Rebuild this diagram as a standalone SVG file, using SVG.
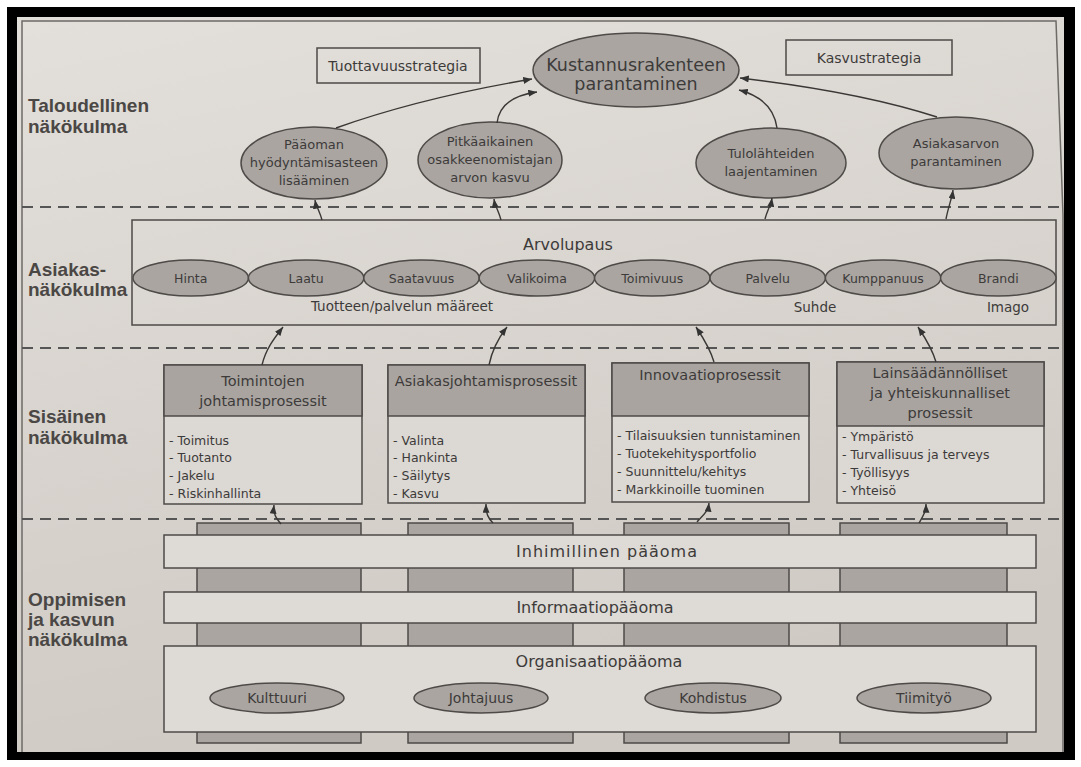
<svg xmlns="http://www.w3.org/2000/svg" width="1081" height="767" viewBox="0 0 1081 767">
<defs>
<linearGradient id="pg" x1="0" y1="0" x2="0.3" y2="1">
<stop offset="0" stop-color="#e3dfda"/><stop offset="1" stop-color="#cfcac4"/>
</linearGradient>
<marker id="ah" viewBox="0 0 10 8" refX="10" refY="4" markerWidth="9" markerHeight="7" markerUnits="userSpaceOnUse" orient="auto"><path d="M0,0 L10,4 L0,8 z" fill="#333"/></marker>
</defs>
<style>
.t{font-family:"DejaVu Sans",sans-serif;fill:#3d3b3a;text-anchor:middle}
.lbl{font-family:"Liberation Sans",Arial,sans-serif;font-weight:bold;font-size:19px;fill:#4a4745}
.el{fill:#aaa5a1;stroke:#4d4a48;stroke-width:1.5}
.box{fill:none;stroke:#4d4a48;stroke-width:1.5}
.body{fill:#dcd8d3;stroke:#4d4a48;stroke-width:1.5}
.hdr{fill:#a9a4a0;stroke:#4d4a48;stroke-width:1.5}
.col{fill:#aaa5a1;stroke:#4d4a48;stroke-width:1.5}
.bar{fill:#dedad5;stroke:#4d4a48;stroke-width:1.5}
.dash{stroke:#555;stroke-width:2;stroke-dasharray:11 7;fill:none}
.cn{fill:none;stroke:#3a3836;stroke-width:1.4;marker-end:url(#ah)}
.it{font-family:"DejaVu Sans",sans-serif;font-size:12.5px;fill:#3d3b3a}
</style>

<g id="frame">
<rect width="1081" height="767" fill="#fff"/>
<rect x="7" y="7" width="1068" height="753" fill="#000"/>
<rect x="17" y="17" width="1047" height="735" fill="url(#pg)"/>
<path d="M22,752 L22,21 L1056,21 L1063,215 L1063,752" fill="none" stroke="#6d6a67" stroke-width="1.5"/>
<line class="dash" x1="22" y1="207" x2="1060" y2="207"/>
<line class="dash" x1="22" y1="348" x2="1060" y2="348"/>
<line class="dash" x1="22" y1="519" x2="1060" y2="519"/>
</g>

<g id="labels">
<text class="lbl" x="28" y="112">Taloudellinen</text>
<text class="lbl" x="28" y="133">näkökulma</text>
<text class="lbl" x="28" y="276">Asiakas-</text>
<text class="lbl" x="28" y="296">näkökulma</text>
<text class="lbl" x="28" y="423">Sisäinen</text>
<text class="lbl" x="28" y="444">näkökulma</text>
<text class="lbl" x="28" y="606">Oppimisen</text>
<text class="lbl" x="28" y="626">ja kasvun</text>
<text class="lbl" x="28" y="646">näkökulma</text>
</g>

<g id="tuottavuusstrategia"><rect class="box" x="317" y="48" width="163" height="35"/><text class="t" x="398" y="71" font-size="14">Tuottavuusstrategia</text></g>
<g id="kustannusrakenne"><ellipse class="el" cx="636" cy="70" rx="103" ry="37"/><text class="t" x="636" y="71" font-size="17.5">Kustannusrakenteen</text><text class="t" x="636" y="90" font-size="17.5">parantaminen</text></g>
<g id="kasvustrategia"><rect class="box" x="786" y="40" width="166" height="35"/><text class="t" x="869" y="63" font-size="14">Kasvustrategia</text></g>

<g id="paaoma"><ellipse class="el" cx="314" cy="163" rx="73" ry="36"/><text class="t" x="314" y="149" font-size="13">Pääoman</text><text class="t" x="314" y="167" font-size="13">hyödyntämisasteen</text><text class="t" x="314" y="185" font-size="13">lisääminen</text></g>
<g id="osakkeenomistaja"><ellipse class="el" cx="490" cy="160" rx="72" ry="38"/><text class="t" x="490" y="146" font-size="13">Pitkäaikainen</text><text class="t" x="490" y="164" font-size="13">osakkeenomistajan</text><text class="t" x="490" y="182" font-size="13">arvon kasvu</text></g>
<g id="tulolahteet"><ellipse class="el" cx="771" cy="163" rx="75" ry="35"/><text class="t" x="771" y="158" font-size="13">Tulolähteiden</text><text class="t" x="771" y="176" font-size="13">laajentaminen</text></g>
<g id="asiakasarvo"><ellipse class="el" cx="956" cy="153" rx="77" ry="36"/><text class="t" x="956" y="148" font-size="13">Asiakasarvon</text><text class="t" x="956" y="166" font-size="13">parantaminen</text></g>

<g id="arvolupaus">
<rect class="box" x="132" y="220" width="924" height="105"/>
<text class="t" x="568" y="250" font-size="16">Arvolupaus</text>
<text class="t" x="402" y="311" font-size="13.5">Tuotteen/palvelun määreet</text>
<text class="t" x="815" y="312" font-size="13.5">Suhde</text>
<text class="t" x="1008" y="312" font-size="13.5">Imago</text>
</g>
<g id="hinta"><ellipse class="el" cx="190.7" cy="278" rx="57.7" ry="18"/><text class="t" x="190.7" y="282.5" font-size="12.5">Hinta</text></g>
<g id="laatu"><ellipse class="el" cx="306.1" cy="278" rx="57.7" ry="18"/><text class="t" x="306.1" y="282.5" font-size="12.5">Laatu</text></g>
<g id="saatavuus"><ellipse class="el" cx="421.5" cy="278" rx="57.7" ry="18"/><text class="t" x="421.5" y="282.5" font-size="12.5">Saatavuus</text></g>
<g id="valikoima"><ellipse class="el" cx="536.9" cy="278" rx="57.7" ry="18"/><text class="t" x="536.9" y="282.5" font-size="12.5">Valikoima</text></g>
<g id="toimivuus"><ellipse class="el" cx="652.3" cy="278" rx="57.7" ry="18"/><text class="t" x="652.3" y="282.5" font-size="12.5">Toimivuus</text></g>
<g id="palvelu"><ellipse class="el" cx="767.7" cy="278" rx="57.7" ry="18"/><text class="t" x="767.7" y="282.5" font-size="12.5">Palvelu</text></g>
<g id="kumppanuus"><ellipse class="el" cx="883.1" cy="278" rx="57.7" ry="18"/><text class="t" x="883.1" y="282.5" font-size="12.5">Kumppanuus</text></g>
<g id="brandi"><ellipse class="el" cx="998.3" cy="278" rx="57.7" ry="18"/><text class="t" x="998.3" y="282.5" font-size="12.5">Brandi</text></g>

<g id="toimintojen">
<rect class="body" x="164" y="365" width="198" height="139"/>
<rect class="hdr" x="164" y="365" width="198" height="51"/>
<text class="t" x="263" y="386" font-size="14.5">Toimintojen</text>
<text class="t" x="263" y="406" font-size="14.5">johtamisprosessit</text>
<text class="it" x="169" y="445">- Toimitus</text>
<text class="it" x="169" y="462">- Tuotanto</text>
<text class="it" x="169" y="480">- Jakelu</text>
<text class="it" x="169" y="498">- Riskinhallinta</text>
</g>
<g id="asiakasjohtamis">
<rect class="body" x="388" y="365" width="197" height="138"/>
<rect class="hdr" x="388" y="365" width="197" height="51"/>
<text class="t" x="486" y="386" font-size="14.5">Asiakasjohtamisprosessit</text>
<text class="it" x="393" y="445">- Valinta</text>
<text class="it" x="393" y="462">- Hankinta</text>
<text class="it" x="393" y="480">- Säilytys</text>
<text class="it" x="393" y="498">- Kasvu</text>
</g>
<g id="innovaatio">
<rect class="body" x="612" y="363" width="197" height="139"/>
<rect class="hdr" x="612" y="363" width="197" height="53"/>
<text class="t" x="710" y="380" font-size="14.5">Innovaatioprosessit</text>
<text class="it" x="617" y="440">- Tilaisuuksien tunnistaminen</text>
<text class="it" x="617" y="458">- Tuotekehitysportfolio</text>
<text class="it" x="617" y="476">- Suunnittelu/kehitys</text>
<text class="it" x="617" y="494">- Markkinoille tuominen</text>
</g>
<g id="lainsaadanto">
<rect class="body" x="837" y="362" width="207" height="141"/>
<rect class="hdr" x="837" y="362" width="207" height="64"/>
<text class="t" x="940" y="378" font-size="14.5">Lainsäädännölliset</text>
<text class="t" x="940" y="398" font-size="14.5">ja yhteiskunnalliset</text>
<text class="t" x="940" y="418" font-size="14.5">prosessit</text>
<text class="it" x="842" y="441">- Ympäristö</text>
<text class="it" x="842" y="459">- Turvallisuus ja terveys</text>
<text class="it" x="842" y="477">- Työllisyys</text>
<text class="it" x="842" y="495">- Yhteisö</text>
</g>

<g id="pylvaat">
<rect class="col" x="197" y="523" width="164" height="220"/>
<rect class="col" x="408" y="523" width="165" height="220"/>
<rect class="col" x="624" y="523" width="165" height="220"/>
<rect class="col" x="840" y="523" width="167" height="220"/>
</g>
<g id="inhimillinen"><rect class="bar" x="164" y="535" width="872" height="33"/><text class="t" x="607" y="557" font-size="16" letter-spacing="1">Inhimillinen pääoma</text></g>
<g id="informaatio"><rect class="bar" x="164" y="592" width="872" height="31"/><text class="t" x="595" y="613" font-size="16">Informaatiopääoma</text></g>
<g id="organisaatio"><rect class="bar" x="164" y="646" width="872" height="86"/><text class="t" x="599" y="667" font-size="16">Organisaatiopääoma</text></g>
<g id="kulttuuri"><ellipse class="el" cx="277" cy="698" rx="67" ry="15"/><text class="t" x="277" y="703" font-size="14">Kulttuuri</text></g>
<g id="johtajuus"><ellipse class="el" cx="481" cy="698" rx="67" ry="15"/><text class="t" x="481" y="703" font-size="14">Johtajuus</text></g>
<g id="kohdistus"><ellipse class="el" cx="713" cy="698" rx="68" ry="15"/><text class="t" x="713" y="703" font-size="14">Kohdistus</text></g>
<g id="tiimityo"><ellipse class="el" cx="924" cy="698" rx="67" ry="15"/><text class="t" x="924" y="703" font-size="14">Tiimityö</text></g>

<g id="connectors">
<path class="cn" d="M336,128 Q420,98 532,79"/>
<path class="cn" d="M497,123 Q500,97 537,92"/>
<path class="cn" d="M777,128 Q773,99 739,90"/>
<path class="cn" d="M937,117 Q860,92 740,78"/>
<path class="cn" d="M322,220 C320,212 316,206 315,200"/>
<path class="cn" d="M501,220 C499,212 495,206 494,199"/>
<path class="cn" d="M765,219 C767,211 771,205 772,198"/>
<path class="cn" d="M946,219 C948,208 952,198 953,190"/>
<path class="cn" d="M262,365 C266,348 276,336 283,327"/>
<path class="cn" d="M489,365 C492,350 500,336 507,327"/>
<path class="cn" d="M714,362 C710,348 702,336 696,327"/>
<path class="cn" d="M936,362 C932,348 924,336 918,327"/>
<path class="cn" d="M281,524 C276,518 273,514 274,505"/>
<path class="cn" d="M493,523 C488,518 486,514 486,504"/>
<path class="cn" d="M697,522 C703,515 708,512 709,503"/>
<path class="cn" d="M919,523 C923,516 926,512 926,504"/>
</g>
</svg>
